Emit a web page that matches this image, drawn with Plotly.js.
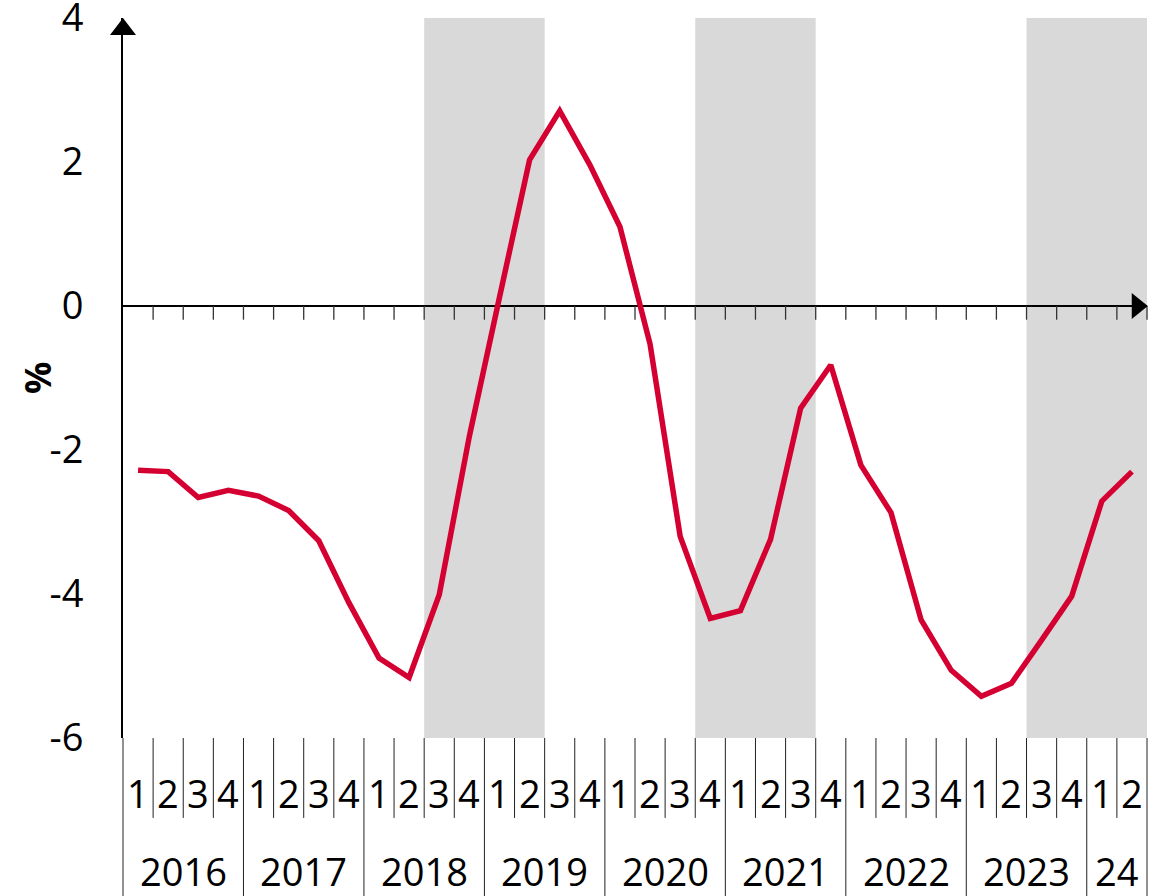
<!DOCTYPE html>
<html>
<head>
<meta charset="utf-8">
<script src="https://cdn.plot.ly/plotly-3.0.1.min.js"></script>
<style>
  html, body { margin: 0; padding: 0; background: #fff; }
  #chart { width: 1170px; height: 896px; }
</style>
</head>
<body>
<div id="chart"></div>
<script>
// ---- data ----
const quarterYears = ['2016','2016','2016','2016','2017','2017','2017','2017','2018','2018','2018','2018',
  '2019','2019','2019','2019','2020','2020','2020','2020','2021','2021','2021','2021',
  '2022','2022','2022','2022','2023','2023','2023','2023','2024','2024'];
const quarterLabels = ['1','2','3','4','1','2','3','4','1','2','3','4','1','2','3','4','1','2','3','4',
  '1','2','3','4','1','2','3','4','1','2','3','4','1','2'];
const years = ['2016','2017','2018','2019','2020','2021','2022','2023','2024'];
const yearLabels = ['2016','2017','2018','2019','2020','2021','2022','2023','24'];
const values = [-2.28,-2.30,-2.66,-2.56,-2.64,-2.84,-3.26,-4.12,-4.89,-5.16,-4.01,-1.81,
  0.12,2.03,2.71,1.96,1.10,-0.53,-3.20,-4.34,-4.23,-3.24,-1.42,-0.82,
  -2.21,-2.87,-4.36,-5.06,-5.42,-5.24,-4.64,-4.03,-2.71,-2.30];
const shadeStart = ['2018-Q3','2020-Q4','2023-Q3'];
const shadeEnd   = ['2019-Q2','2021-Q3','2024-Q2'];
const yTickVals = [-6,-4,-2,0,2,4];
const yTickText = ['-6','-4','-2','0','2','4'];
const yTitle = '%';

// ---- build ----
const categories = quarterYears.map((y, i) => y + '-Q' + quarterLabels[i]);
const n = categories.length;
const FONT = 'Open Sans, Noto Sans, sans-serif';

const shapes = [];
// shaded periods
shadeStart.forEach((s, k) => {
  const i0 = categories.indexOf(s), i1 = categories.indexOf(shadeEnd[k]);
  shapes.push({type:'rect', layer:'below', xref:'x', yref:'paper',
    x0: i0 - 0.5, x1: i1 + 0.5, y0: 0, y1: 1,
    fillcolor:'#d9d9d9', line:{width:0}});
});
// ticks on the zero line at quarter boundaries
for (let i = 1; i <= n; i++) {
  shapes.push({type:'line', xref:'paper', yref:'y', x0: i / n, x1: i / n, y0: 0, y1: -0.19,
    line:{color:'#333', width:1.3}});
}
// separators below the plot
for (let i = 0; i <= n; i++) {
  const isYear = (i === 0 || i === n || quarterYears[i] !== quarterYears[i - 1]);
  shapes.push({type:'line', xref:'paper', yref:'paper', x0: i / n, x1: i / n,
    y0: 0, y1: isYear ? -0.222 : -0.111, line:{color:'#222', width:1}});
}
// arrows
shapes.push({type:'path', xref:'paper', yref:'paper',
  path:'M -0.0127 0.9764 L 0 1.0 L 0.0127 0.9764 Z', fillcolor:'#000', line:{width:0}});
shapes.push({type:'path', xref:'paper', yref:'y',
  path:'M 0.9851 0.18 L 1.0008 0 L 0.9851 -0.18 Z', fillcolor:'#000', line:{width:0}});

const annotations = [];
categories.forEach((c, i) => {
  annotations.push({xref:'x', yref:'paper', x: i, y: -0.0757, text: quarterLabels[i],
    showarrow:false, xanchor:'center', yanchor:'middle',
    font:{family:FONT, size:38, color:'#000'}});
});
years.forEach((y, k) => {
  const idx = quarterYears.map((q, i) => q === y ? i : -1).filter(i => i >= 0);
  const mid = (idx[0] + idx[idx.length - 1]) / 2;
  annotations.push({xref:'x', yref:'paper', x: mid, y: -0.1847, text: yearLabels[k],
    showarrow:false, xanchor:'center', yanchor:'middle',
    font:{family:FONT, size:38, color:'#000'}});
});
// y-axis title
annotations.push({xref:'paper', yref:'paper', x: -0.084, y: 0.5, text: '<b>' + yTitle + '</b>',
  textangle: -90, showarrow:false, xanchor:'center', yanchor:'middle',
  font:{family:FONT, size:36, color:'#000'}});

const trace = {
  type:'scatter', mode:'lines', x: categories, y: values,
  line:{color:'#d50032', width:5.5}, hoverinfo:'skip'
};

const layout = {
  width:1170, height:896,
  margin:{l:123, r:23, t:18, b:158},
  paper_bgcolor:'#fff', plot_bgcolor:'rgba(0,0,0,0)',
  showlegend:false,
  font:{family:FONT, size:38, color:'#000'},
  xaxis:{type:'category', categoryorder:'array', categoryarray: categories,
    range:[-0.5, n - 0.5], showticklabels:false, showgrid:false, zeroline:false,
    showline:false, ticks:'', fixedrange:true},
  yaxis:{range:[-6, 4], tickvals:yTickVals, ticktext:yTickText, ticks:'',
    showgrid:false, zeroline:true, zerolinecolor:'#000', zerolinewidth:2,
    showline:true, linecolor:'#000', linewidth:2, ticklabeloverflow:'allow',
    ticklabelstandoff:30, tickfont:{family:FONT, size:38, color:'#000'},
    fixedrange:true, automargin:false},
  shapes: shapes,
  annotations: annotations
};

Plotly.newPlot('chart', [trace], layout, {displayModeBar:false, staticPlot:true});
</script>
</body>
</html>
